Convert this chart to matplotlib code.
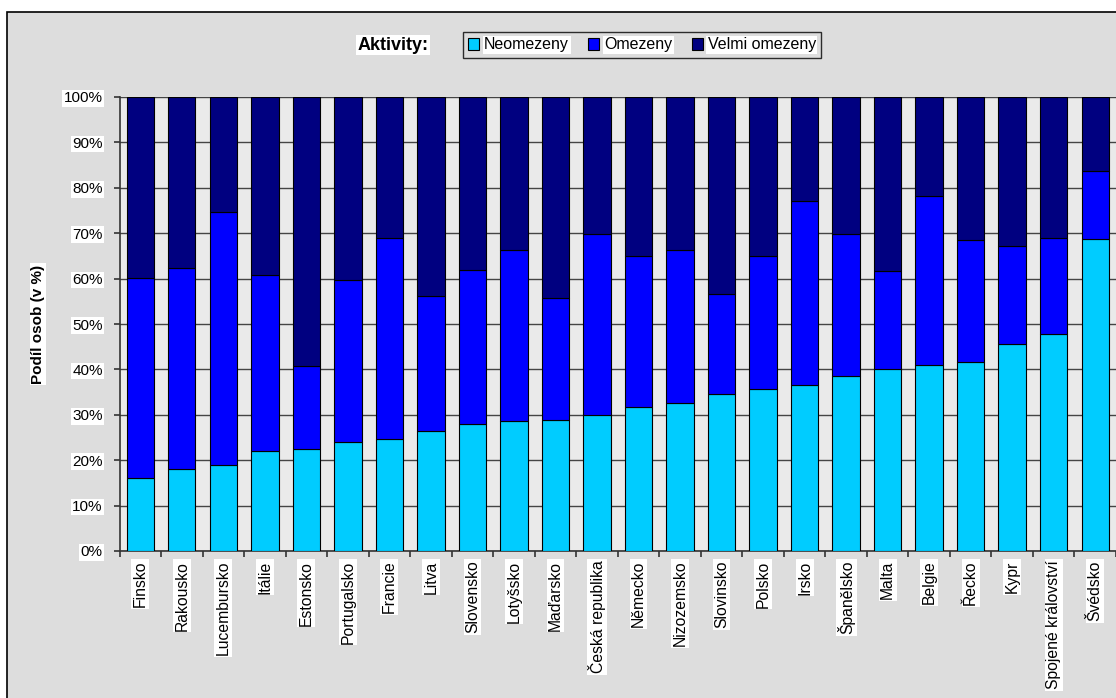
import matplotlib.pyplot as plt
import numpy as np
from matplotlib.patches import Rectangle, Patch

plt.rcParams['font.family'] = ['Liberation Sans', 'DejaVu Sans']

countries = ["Finsko", "Rakousko", "Lucembursko", "Itálie", "Estonsko", "Portugalsko",
             "Francie", "Litva", "Slovensko", "Lotyšsko", "Maďarsko", "Česká republika",
             "Německo", "Nizozemsko", "Slovinsko", "Polsko", "Irsko", "Španělsko",
             "Malta", "Belgie", "Řecko", "Kypr", "Spojené království", "Švédsko"]

# shares in %
neomezeny = [16.0, 18.0, 19.0, 22.0, 22.5, 24.0, 24.7, 26.5, 28.0, 28.6, 28.8, 29.9,
             31.8, 32.5, 34.6, 35.6, 36.5, 38.5, 40.0, 40.9, 41.6, 45.5, 47.7, 68.7]
omezeny = [44.1, 44.3, 55.6, 38.7, 18.3, 35.8, 44.3, 29.6, 33.9, 37.7, 26.9, 39.9,
           33.1, 33.8, 22.0, 29.3, 40.7, 31.3, 21.6, 37.2, 26.8, 21.7, 21.2, 15.1]
velmi = [39.9, 37.7, 25.4, 39.3, 59.2, 40.2, 31.0, 43.9, 38.1, 33.7, 44.3, 30.2,
         35.1, 33.7, 43.4, 35.1, 22.8, 30.2, 38.4, 21.9, 31.6, 32.8, 31.1, 16.2]

labels = ["Neomezeny", "Omezeny", "Velmi omezeny"]
colors = ["#00CCFF", "#0000FF", "#000080"]

W, H = 1116, 698
fig = plt.figure(figsize=(W / 100, H / 100), dpi=100)
fig.patch.set_facecolor("white")

# chart area (grey box with border)
fig.patches.append(Rectangle((7 / W, -0.01), 1.0, 1 - 12 / H + 0.01, transform=fig.transFigure,
                             facecolor="#DDDDDD", edgecolor="black", linewidth=1.2, zorder=-1))

ax = fig.add_axes([119.5 / W, 1 - 551 / H, 1 - 119.5 / W, (551 - 97) / H])
ax.set_facecolor("#EAEAEA")

x = np.arange(len(countries))
neo = np.array(neomezeny)
om = np.array(omezeny)
vel = np.array(velmi)
bw = 0.66
ax.bar(x, neo, bw, color=colors[0], edgecolor="black", linewidth=0.8, zorder=3)
ax.bar(x, om, bw, bottom=neo, color=colors[1], edgecolor="black", linewidth=0.8, zorder=3)
ax.bar(x, vel, bw, bottom=neo + om, color=colors[2], edgecolor="black", linewidth=0.8, zorder=3)

ax.set_xlim(-0.5, len(countries) - 0.5)
ax.set_ylim(0, 100)
ax.set_yticks(np.arange(0, 101, 10))
ax.set_yticklabels([f"{v}%" for v in range(0, 101, 10)], fontsize=11)
ax.yaxis.grid(True, color="#444444", linewidth=1.0, zorder=1)
ax.set_axisbelow(True)

ax.set_xticks(x)
ax.set_xticklabels(countries, rotation=90, fontsize=11.3, va="top")
ax.set_xticks(np.arange(-0.5, len(countries), 1), minor=True)
ax.tick_params(axis="x", which="major", length=0, pad=7)
ax.tick_params(axis="x", which="minor", length=4, color="#333333", width=1.2)
ax.tick_params(axis="y", length=4, color="#333333", width=1.2, pad=8)

for side in ["top", "right"]:
    ax.spines[side].set_visible(False)
for side in ["left", "bottom"]:
    ax.spines[side].set_color("#333333")
    ax.spines[side].set_linewidth(1.2)

for t in ax.get_xticklabels() + ax.get_yticklabels():
    t.set_bbox(dict(facecolor="white", edgecolor="none", pad=1))

ax.set_ylabel("Podíl osob (v %)", fontsize=11, fontweight="bold",
              bbox=dict(facecolor="white", edgecolor="none", pad=1))
ax.yaxis.set_label_coords(-(119.5 - 45) / (W - 119.5), 0.5)

fig.text(393 / W, 1 - 45 / H, "Aktivity:", fontsize=13, fontweight="bold",
         ha="center", va="center", bbox=dict(facecolor="white", edgecolor="none", pad=1))

handles = [Patch(facecolor=c, edgecolor="black", linewidth=0.8) for c in colors]
leg = fig.legend(handles, labels, ncol=3, loc="center", bbox_to_anchor=(642 / W, 1 - 45 / H),
                 fontsize=11.5, frameon=True, fancybox=False, facecolor="#DDDDDD",
                 edgecolor="black", handlelength=0.7, handleheight=0.7, handletextpad=0.3,
                 columnspacing=1.2, borderpad=0.35)
leg.get_frame().set_linewidth(1.0)
for t in leg.get_texts():
    t.set_bbox(dict(facecolor="white", edgecolor="none", pad=1))

fig.savefig("out.png", dpi=100)
